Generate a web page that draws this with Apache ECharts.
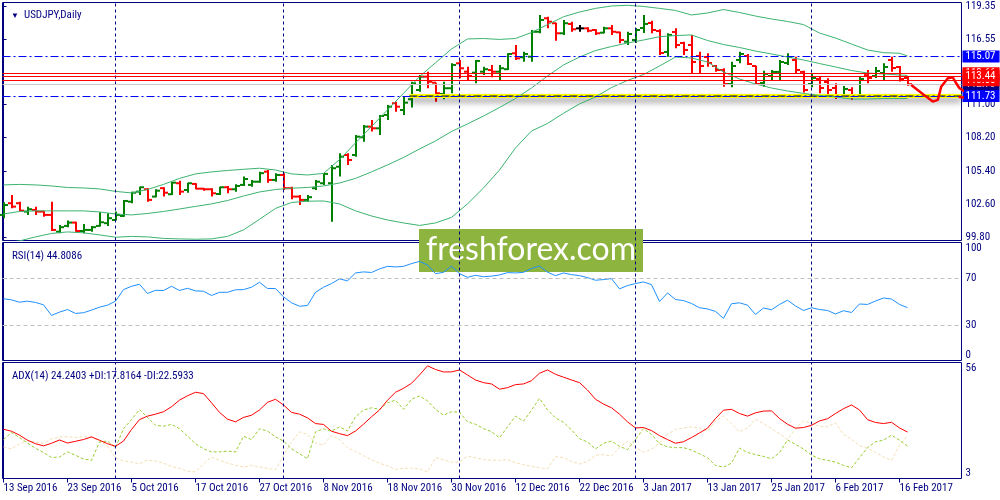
<!DOCTYPE html>
<html><head><meta charset="utf-8">
<script src="https://cdn.jsdelivr.net/npm/echarts@6/dist/echarts.min.js"></script>
<style>html,body{margin:0;padding:0;background:#fff}#c{width:1000px;height:500px}</style>
</head><body><div id="c"></div>
<script>
const FONT = "'Liberation Sans Narrow', 'Roboto Condensed', Roboto, sans-serif";
const NAVY = '#000080';

// ---- date axis ----
const dateTickIdx = [0,8,16,24,32,40,48,56,64,72,80,88,96,104,112];
const dateLabels = ['13 Sep 2016','23 Sep 2016','5 Oct 2016','17 Oct 2016','27 Oct 2016','8 Nov 2016','18 Nov 2016','30 Nov 2016','12 Dec 2016','22 Dec 2016','3 Jan 2017','13 Jan 2017','25 Jan 2017','6 Feb 2017','16 Feb 2017'];
const monthStartIdx = [14,35,57,79,101];

// ---- price (USDJPY daily OHLC) ----
const opens = [101.67,102.66,102.66,101.95,102.09,101.95,101.67,100.25,100.74,101.02,100.31,100.40,100.74,100.97,101.24,101.58,102.79,103.64,103.84,103.22,103.93,103.42,104.35,103.78,104.29,103.89,103.84,103.44,104.01,103.84,104.21,104.21,104.48,105.33,104.63,105.05,103.93,103.22,102.94,103.93,104.35,104.35,105.75,106.74,106.74,108.24,109.14,109.00,110.13,111.12,110.55,111.46,112.24,113.37,112.86,111.90,112.39,114.50,113.79,113.71,113.79,113.93,113.79,114.00,115.35,115.01,115.06,117.17,118.31,117.89,117.04,117.83,117.46,117.46,117.32,117.09,117.46,117.12,116.33,116.47,117.49,117.91,117.23,115.46,117.15,116.22,116.05,115.12,115.03,114.27,113.93,112.75,114.78,115.12,114.27,112.83,113.43,113.77,114.53,114.78,113.77,112.75,113.17,112.92,112.41,111.73,112.24,111.82,113.50,113.43,113.68,114.78,114.19,113.26];
const highs = [102.74,103.36,102.79,102.37,102.37,102.00,102.79,100.82,101.19,101.10,100.91,100.74,101.90,101.80,101.95,102.94,103.64,104.06,103.93,103.84,104.01,104.46,104.57,104.40,104.35,103.93,103.93,104.06,104.12,104.27,104.91,104.63,105.33,105.47,105.20,105.20,104.06,103.36,103.36,104.63,105.20,105.90,106.89,106.89,108.44,109.28,109.71,110.13,110.97,111.25,111.68,112.94,113.50,113.79,112.86,112.94,114.50,114.78,114.21,114.78,114.21,114.36,114.36,115.35,116.05,115.48,117.32,118.59,118.44,117.94,118.17,118.02,117.74,117.55,117.38,117.60,117.74,117.17,117.17,117.49,118.59,118.10,117.38,117.04,117.46,116.33,116.90,115.48,115.35,114.36,114.08,114.64,115.48,115.29,114.30,113.87,113.93,114.78,115.35,115.06,113.87,113.60,113.37,113.23,112.81,112.58,112.47,113.37,113.93,114.19,114.50,115.06,114.27,113.40];
const lows = [101.39,102.23,101.95,101.67,101.67,101.52,100.31,100.12,100.63,100.25,100.12,100.25,100.68,100.74,101.19,101.52,102.66,103.36,102.79,103.17,103.22,103.36,103.36,103.55,103.84,103.72,103.22,103.36,103.50,103.64,104.12,104.06,104.40,104.40,104.48,103.78,103.00,102.50,102.79,103.78,104.21,101.10,104.91,105.90,106.60,107.87,108.72,108.44,109.71,110.41,110.13,110.75,112.10,112.39,111.25,111.46,111.96,113.23,113.09,112.81,113.51,113.32,113.09,113.93,114.78,114.64,114.64,117.04,117.46,116.41,116.90,117.17,117.17,117.12,116.90,117.04,116.90,116.19,116.05,116.22,117.06,117.04,115.20,115.06,115.77,115.20,113.66,113.66,114.21,113.79,112.52,112.47,114.50,114.36,112.66,112.52,113.09,113.09,114.36,113.66,112.02,112.47,111.96,111.82,111.48,111.54,111.40,111.68,112.81,113.26,113.09,113.79,112.95,112.60];
const closes = [102.51,102.37,102.03,102.15,101.95,101.67,100.40,100.63,101.02,100.31,100.40,100.63,101.05,101.39,101.67,102.85,103.55,104.01,102.94,103.72,103.55,104.40,103.64,104.35,103.89,103.84,103.50,104.01,103.84,104.12,104.71,104.48,105.20,104.63,105.05,103.93,103.22,102.94,103.17,104.48,105.14,105.62,106.60,106.32,108.29,109.14,109.00,110.04,110.83,110.83,111.17,112.81,113.37,112.94,111.96,112.39,114.36,114.08,113.43,114.70,114.00,113.79,114.08,115.29,114.92,115.29,117.17,118.17,118.02,117.04,117.89,117.38,117.46,117.26,117.04,117.46,117.17,116.47,116.98,117.32,117.83,117.32,115.37,116.90,116.05,115.63,114.61,114.27,114.53,113.93,112.75,114.27,115.29,114.44,112.75,113.60,113.77,114.61,115.03,113.93,112.24,113.26,112.41,112.24,111.82,112.33,111.82,113.17,113.26,113.85,114.19,114.10,113.17,112.73];

// ---- Bollinger bands (read at every second bar) ----
const bbIdx = [0,2,4,6,8,10,12,14,16,18,20,22,24,26,28,30,32,34,36,38,40,42,44,46,48,50,52,54,56,58,60,62,64,66,68,70,72,74,76,78,80,82,84,86,88,90,92,94,96,98,100,102,104,106,108,110,112,113];
const bbUpper = [104.21,104.25,104.21,104.12,103.99,103.95,103.87,103.66,103.53,103.82,104.25,104.76,105.14,105.31,105.43,105.53,105.62,105.47,105.14,105.05,105.18,106.35,107.76,109.15,110.56,111.96,113.37,114.55,115.71,116.56,116.6,116.52,116.6,117.11,117.77,118.44,118.84,119.15,119.35,119.41,119.31,119.15,118.97,118.59,118.76,119.05,118.8,118.5,118.25,118.04,117.78,117.06,116.64,116.13,115.63,115.4,115.35,115.12];
const bbMiddle = [101.75,101.96,102.01,102.01,102.01,102.01,101.92,101.75,101.67,101.79,101.96,102.17,102.39,102.6,102.89,103.27,103.61,103.82,103.93,103.99,104.12,104.37,104.76,105.31,105.9,106.53,107.25,107.93,108.73,109.37,110.04,110.76,111.52,112.41,113.43,114.36,115.03,115.58,115.92,116.22,116.47,116.75,116.85,116.9,116.43,116.09,115.84,115.54,115.29,115.03,114.78,114.48,114.19,113.89,113.68,113.6,113.51,113.47];
const bbLower = [99.3,99.47,99.81,100.1,100.23,100.15,99.98,99.78,99.85,99.81,99.68,99.64,99.61,99.64,99.85,100.4,101.3,102.22,102.72,102.83,102.85,102.6,102.01,101.58,101.24,100.99,100.78,100.99,101.46,102.6,103.95,105.47,107.34,108.77,109.41,110.27,111.06,111.65,112.45,113.05,113.55,114.27,115.03,114.95,114.61,113.77,113.17,112.75,112.41,112.16,111.95,111.78,111.65,111.48,111.48,111.52,111.52,111.52];

// ---- horizontal levels ----
const blueLevels = [115.07, 111.73];
const redLevels = [113.66, 113.06, 113.44];
const bidPrice = 112.73;
const trendPrice = 111.73;
const trendStartIdx = 50.75;

// ---- forecast arrow ----
const arrowIdx = [113.46,115.34,116.16,116.79,117.21,118.04,118.66,119.09,119.5,120.54,120.96];
const arrowPrice = [112.67,111.68,111.26,111.40,112.52,113.23,113.32,112.81,112.39,111.96,111.54];
const barbA = [[119.4,111.65],[120.96,111.54]];
const barbB = [[120.6,112.45],[120.96,111.54]];

// ---- tick labels ----
const priceTicks = [119.35,116.55,111.00,108.20,105.40,102.60,99.80];
const rsiTicks = [0,30,70,100];
const rsiLevels = [70,30];
const adxTicks = [3,56];

// ---- RSI(14) ----
const rsi = [52.3,51.4,49.4,50.3,49.2,47.2,38.2,41,43.2,39.9,40.5,42.7,45.2,46.9,50.3,60.1,62.9,64.6,56.8,59.5,59.3,62.9,59.3,61.2,59,58.7,55.1,57.8,57.8,59.9,60.1,62.1,66.3,61,61,54,48.9,46,46.6,57.8,62.1,65.2,69.2,67.5,74.2,75.1,74.6,77.6,79.8,79.3,79.8,82.1,84,81,73.6,74.7,80,73.6,70.5,72.2,71,71.5,72.5,74.5,74.2,74.7,78,80,74.9,71.9,74.2,72.8,71.9,70.3,68,68.6,69.4,60.7,63.5,65.2,66.6,64.3,50,57.2,51.7,50.8,48.3,44.7,43.7,41.6,35.7,48.1,48.9,46.9,39,44.5,43,47.5,51.1,46.2,42.4,44.7,43.2,42.4,39.4,42.2,40.7,47.9,47.5,50.4,53,52.1,47.5,44.81];

// ---- ADX(14) ----
const adx = [25.5,24.6,22.8,20.5,18.9,17.9,19.1,20.6,19.2,20,20.8,22,20.5,18.9,17.7,20.1,25.4,29.9,31.5,32.4,33.5,35.8,38.8,40.8,42.4,41.8,37.6,33.2,30.1,28.9,30.9,31.9,34.3,37.8,39.2,36.6,33.2,32.4,30.7,28.1,27.7,24.6,23.5,22.6,24.7,27.8,31.2,34.3,38.8,42.4,44.2,46.5,50.3,54.5,52.8,51.7,51.7,52.6,50.3,48,46.8,46.2,43.8,44.5,45.9,46.2,47.7,51.1,52.6,50.6,49.3,48,46.8,43.4,39.2,37,35.3,32.4,28.9,26.1,26.3,24.9,22.6,20.8,19.1,19.8,21.7,23.8,26,30.4,34.2,34.6,32.7,31.5,33,33.8,33.9,30.4,27.8,26,26.3,27.3,29.3,30.3,32.7,34.9,36.6,34.3,29.9,28.6,28.1,28.7,26.1,24.24];
const plusDI = [20.8,24,21.7,19.2,16.8,14.9,12.6,12.8,15.2,13.6,11.9,11.3,19.7,20.1,17.1,25.7,29.9,34.5,30.9,27.3,26.9,27.7,25.8,22.3,18.9,16.6,15.1,15.2,15.5,15.1,22.3,20.8,25.7,24.7,22,20.1,16.6,14.3,12,24.3,25.7,24.6,26.6,24.7,31.2,34.3,35.3,34.6,37.6,38.8,34.6,39.2,40.7,38.5,34.6,31.9,33.5,33.3,28.9,27.8,25.8,24.4,21.6,26.6,31.5,29.2,34.2,39.6,34.4,30.7,28.7,25.2,21.2,19.7,16.5,19.1,20.1,17.7,16.2,20.8,25.8,23.1,18.9,17.5,17.1,17.1,16,14.3,12.5,9,8.2,10,16.9,14.9,13.9,13.1,12,14.8,20.6,18.6,16.5,13.7,12,11.3,10.5,9,7.9,12.5,17.1,19.8,20.5,22.8,20.5,17.82];
const minusDI = [17.4,16.5,18.9,20.3,19.7,19.1,21.1,22,22.1,21.7,22.1,22,20.1,17.7,12.5,11,10.5,9.7,11.4,11,10,8.5,7.6,6.3,6,9.7,12.8,11.3,10,9.1,8.2,9,8.3,7.6,7,13.3,19.7,24.3,23.2,19.2,18.3,22.8,20.8,17.1,15.4,13.4,11.6,10,8.8,7.1,7.7,7.7,7.4,6,12.5,11.6,10.5,10.5,13.3,12.5,11.7,11.3,11.3,11.6,10.2,9.3,8.6,7.9,7.4,13,12.5,10.8,9.6,10.8,13.6,13.9,13.3,17.1,20,17.4,15.1,16.3,19.2,23.2,25.4,26.1,26.6,26.1,24.7,29.3,31.6,28.1,24.3,26.1,30.1,28.1,25.8,23.5,20.8,25.8,29.3,28.1,26.9,26.7,28.4,23.2,20.9,18,16.8,14.9,12.8,11.3,18.1,22.59];

// ---------- build ----------
const X_MIN = -0.125, X_MAX = 119.75;
const barIdx = closes.map((_, i) => i);
const ohlc = barIdx.map(i => [i, opens[i], highs[i], lows[i], closes[i]]);
const pair = (xs, ys) => xs.map((x, k) => [x, ys[k]]);

function renderBar(params, api) {
  const i = api.value(0), o = api.value(1), h = api.value(2), l = api.value(3), c = api.value(4);
  const pH = api.coord([i, h]), pL = api.coord([i, l]), pO = api.coord([i, o]), pC = api.coord([i, c]);
  const cx = Math.round(pH[0]);
  const col = c > o ? '#008000' : (c < o ? '#ff0000' : '#000000');
  const st = { stroke: col, lineWidth: 2 };
  return { type: 'group', children: [
    { type: 'line', shape: { x1: cx, y1: pH[1], x2: cx, y2: pL[1] }, style: st },
    { type: 'line', shape: { x1: cx - 4, y1: pO[1], x2: cx, y2: pO[1] }, style: st },
    { type: 'line', shape: { x1: cx, y1: pC[1], x2: cx + 4, y2: pC[1] }, style: st }
  ]};
}

const dashDot = [8, 3, 2, 3];
function levelLabel(bg, fg) {
  return { show: true, position: 'end', distance: 1, formatter: p => p.value.toFixed(2),
    backgroundColor: bg, color: fg, fontFamily: FONT, fontSize: 11, lineHeight: 11, padding: [1, 4, 0, 3] };
}
const levelItems = [];
levelItems.push({ yAxis: bidPrice, lineStyle: { color: '#c8c8c8', type: 'solid', width: 1 }, label: levelLabel(NAVY, '#fff') });
redLevels.forEach(v => levelItems.push({ yAxis: v, lineStyle: { color: '#ff0000', type: 'solid', width: 1 }, label: levelLabel('#ff0000', '#fff') }));
blueLevels.forEach(v => levelItems.push({ yAxis: v, lineStyle: { color: '#0000ff', type: dashDot, width: 1 }, label: levelLabel('#0000ff', '#fff') }));

const monthLines = (xi, yi) => ({
  type: 'line', xAxisIndex: xi, yAxisIndex: yi, data: [], silent: true,
  markLine: { silent: true, symbol: 'none', animation: false, label: { show: false },
    lineStyle: { color: NAVY, type: [3, 3], width: 1 },
    data: monthStartIdx.map(i => ({ xAxis: i })) }
});

const gridBase = { left: 2.5, right: 38.5, show: true, borderColor: NAVY, borderWidth: 1, backgroundColor: 'transparent' };
const xHidden = gi => ({ type: 'value', gridIndex: gi, min: X_MIN, max: X_MAX,
  axisLine: { show: false }, axisTick: { show: false }, axisLabel: { show: false }, splitLine: { show: false } });
const yStyle = (gi, min, max, ticks, fmt, edgeAlign) => {
  const lab = { customValues: ticks, formatter: fmt, color: NAVY, fontFamily: FONT, fontSize: 11, margin: 4 };
  if (edgeAlign) { lab.verticalAlignMinLabel = 'bottom'; lab.verticalAlignMaxLabel = 'top'; }
  return {
    type: 'value', gridIndex: gi, position: 'right', min: min, max: max,
    axisLine: { show: true, lineStyle: { color: NAVY, width: 1 } },
    axisTick: { show: true, customValues: ticks, length: 3, lineStyle: { color: NAVY } },
    axisLabel: lab,
    splitLine: { show: false }
  };
};
const lineS = (xi, yi, data, color, width, type) => ({
  type: 'line', xAxisIndex: xi, yAxisIndex: yi, data: data, symbol: 'none', silent: true,
  lineStyle: { color: color, width: width, type: type || 'solid' }
});

const titleStyle = { fontSize: 11, color: NAVY, fontFamily: FONT, fontWeight: 'normal' };

const option = {
  animation: false,
  backgroundColor: '#ffffff',
  title: [
    { text: '{a|▼}  USDJPY,Daily', left: 6, top: 5, textStyle: Object.assign({}, titleStyle, { rich: { a: { fontSize: 8, color: NAVY } } }) },
    { text: 'RSI(14) 44.8086', left: 7, top: 246, textStyle: titleStyle },
    { text: 'ADX(14) 24.2403 +DI:17.8164 -DI:22.5933', left: 7, top: 366, textStyle: titleStyle }
  ],
  grid: [
    Object.assign({ top: 2.5, height: 238 }, gridBase),
    Object.assign({ top: 242.5, height: 118 }, gridBase),
    Object.assign({ top: 362.5, height: 116 }, gridBase)
  ],
  xAxis: [
    xHidden(0), xHidden(1),
    { type: 'value', gridIndex: 2, min: X_MIN, max: X_MAX, axisLine: { show: false },
      axisTick: { show: true, customValues: dateTickIdx, length: 4, lineStyle: { color: NAVY } },
      axisLabel: { customValues: dateTickIdx, formatter: v => dateLabels[dateTickIdx.indexOf(v)],
        align: 'left', margin: 4, color: NAVY, fontFamily: FONT, fontSize: 11 },
      splitLine: { show: false } }
  ],
  yAxis: [
    yStyle(0, 99.504, 119.646, priceTicks, v => v.toFixed(2), false),
    yStyle(1, 0, 100, rsiTicks, v => String(v), true),
    yStyle(2, 3, 56, adxTicks, v => String(v), true)
  ],
  graphic: [{
    type: 'group', left: 419, top: 229, z: 100,
    children: [
      { type: 'rect', shape: { x: 0, y: 0, width: 224, height: 43 }, style: { fill: '#8db43e' } },
      { type: 'text', x: 112, y: 21, style: { text: 'freshforex.com', align: 'center', verticalAlign: 'middle',
        fill: '#ffffff', font: '32px Lato, "Open Sans", sans-serif' } }
    ]
  }],
  series: [
    monthLines(0, 0), monthLines(1, 1), monthLines(2, 2),
    // horizontal levels with right-hand price boxes
    { type: 'line', xAxisIndex: 0, yAxisIndex: 0, data: [], silent: true, clip: false,
      markLine: { silent: true, symbol: 'none', animation: false, data: levelItems } },
    // yellow trend line with shadow + black dash-dot
    { type: 'line', xAxisIndex: 0, yAxisIndex: 0, symbol: 'none', silent: true,
      data: [[trendStartIdx, trendPrice], [X_MAX, trendPrice]],
      lineStyle: { color: '#ffff00', width: 4, shadowColor: 'rgba(0,0,0,0.45)', shadowBlur: 6, shadowOffsetY: 4 } },
    lineS(0, 0, [[trendStartIdx, trendPrice], [X_MAX, trendPrice]], '#000000', 1, dashDot),
    // Bollinger bands
    lineS(0, 0, pair(bbIdx, bbUpper), '#3cb371', 1),
    lineS(0, 0, pair(bbIdx, bbMiddle), '#3cb371', 1),
    lineS(0, 0, pair(bbIdx, bbLower), '#3cb371', 1),
    // OHLC bars
    { type: 'custom', xAxisIndex: 0, yAxisIndex: 0, data: ohlc, renderItem: renderBar,
      encode: { x: 0, y: [1, 2, 3, 4] }, silent: true },
    // forecast arrow
    Object.assign(lineS(0, 0, pair(arrowIdx, arrowPrice), '#ff0000', 2.5), { clip: false, z: 20 }),
    Object.assign(lineS(0, 0, barbA, '#ff0000', 2.5), { clip: false, z: 20 }),
    Object.assign(lineS(0, 0, barbB, '#ff0000', 2.5), { clip: false, z: 20 }),
    // RSI
    Object.assign(lineS(1, 1, pair(barIdx, rsi), '#1e90ff', 1), {
      markLine: { silent: true, symbol: 'none', animation: false, label: { show: false },
        lineStyle: { color: '#c0c0c0', type: [4, 3], width: 1 },
        data: rsiLevels.map(v => ({ yAxis: v })) } }),
    // ADX
    lineS(2, 2, pair(barIdx, minusDI), '#f5deb3', 1, [3, 2]),
    lineS(2, 2, pair(barIdx, plusDI), '#9acd32', 1, [3, 2]),
    lineS(2, 2, pair(barIdx, adx), '#ff0000', 1)
  ]
};

const chart = echarts.init(document.getElementById('c'), null, { renderer: 'canvas' });
chart.setOption(option);
</script></body></html>
